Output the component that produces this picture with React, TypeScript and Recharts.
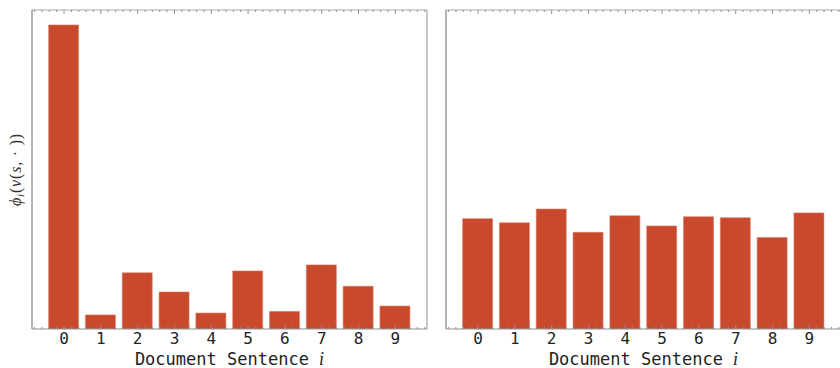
import React from 'react';
import { BarChart, Bar, XAxis, YAxis } from 'recharts';

// sentence index on the x axis
const sentences = [0, 1, 2, 3, 4, 5, 6, 7, 8, 9];
const sentenceLabels = ['0', '1', '2', '3', '4', '5', '6', '7', '8', '9'];

// left panel: attribution is concentrated on sentence 0
const leftValues = [0.953, 0.044, 0.176, 0.116, 0.05, 0.182, 0.055, 0.201, 0.134, 0.072];
// right panel: attribution spread over all sentences
const rightValues = [0.346, 0.333, 0.376, 0.303, 0.355, 0.323, 0.352, 0.349, 0.287, 0.364];

const X_DOMAIN: [number, number] = [-0.87, 9.86];
const BAR_COLOR = '#c8492c';
const FRAME = '#8f8f8f';
const MONO = 'DejaVu Sans Mono, monospace';
const SERIF = 'Liberation Serif, DejaVu Serif, serif';

// minor ticks every 1/5 of a category, majors fall on the sentences
const frameTicks: number[] = [];
for (let k = -4; k <= 49; k++) frameTicks.push(Math.round(k * 20) / 100);

const isMajor = (v: number) => Math.abs(v - Math.round(v)) < 1e-6;

const BottomTick = (props: any) => {
  const { x, y, payload } = props;
  const v = payload.value as number;
  const major = isMajor(v);
  const idx = sentences.indexOf(Math.round(v));
  return (
    <g>
      <line x1={x} y1={y} x2={x} y2={y - (major ? 4 : 2)} stroke={FRAME} strokeWidth={1} />
      {major && idx >= 0 && (
        <text x={x} y={y + 15} textAnchor="middle" fontFamily={MONO} fontSize={16} fill="#222">
          {sentenceLabels[idx]}
        </text>
      )}
    </g>
  );
};

const TopTick = (props: any) => {
  const { x, y, payload } = props;
  const major = isMajor(payload.value);
  return <line x1={x} y1={y} x2={x} y2={y + (major ? 4 : 2)} stroke={FRAME} strokeWidth={1} />;
};

const XLabel = (props: any) => {
  const { viewBox } = props;
  if (!viewBox) return null;
  return (
    <text
      x={viewBox.x + viewBox.width / 2}
      y={viewBox.y + 36}
      textAnchor="middle"
      fontSize={17}
      fill="#222"
    >
      <tspan fontFamily={MONO}>Document Sentence </tspan>
      <tspan fontFamily={SERIF} fontStyle="italic" fontSize={18}>i</tspan>
    </text>
  );
};

const YLabel = (props: any) => {
  const { viewBox } = props;
  if (!viewBox) return null;
  const cx = viewBox.x - 10;
  const cy = viewBox.y + viewBox.height / 2;
  return (
    <text
      x={cx}
      y={cy}
      transform={`rotate(-90 ${cx} ${cy})`}
      textAnchor="middle"
      fontFamily={SERIF}
      fontSize={16}
      fill="#333"
      letterSpacing={0.8}
    >
      <tspan fontStyle="italic">ϕ</tspan>
      <tspan fontStyle="italic" fontSize={11} dy={3}>i</tspan>
      <tspan dy={-3}>(</tspan>
      <tspan fontStyle="italic">v</tspan>
      <tspan>(</tspan>
      <tspan fontStyle="italic">s</tspan>
      <tspan>, · ))</tspan>
    </text>
  );
};

interface PanelProps {
  values: number[];
  showYLabel?: boolean;
}

const Panel: React.FC<PanelProps> = ({ values, showYLabel = false }) => {
  const data = sentences.map((s, i) => ({ sentence: s, value: values[i] }));
  return (
    <BarChart
      width={440}
      height={368}
      data={data}
      margin={{ top: 9, right: 12, bottom: 0, left: 31 }}
    >
      <XAxis
        dataKey="sentence"
        type="number"
        domain={X_DOMAIN}
        allowDataOverflow
        ticks={frameTicks}
        interval={0}
        tickSize={0}
        tickMargin={0}
        tick={<BottomTick />}
        tickLine={false}
        axisLine={{ stroke: FRAME }}
        height={39}
        label={<XLabel />}
      />
      <XAxis
        xAxisId="top"
        orientation="top"
        dataKey="sentence"
        type="number"
        domain={X_DOMAIN}
        allowDataOverflow
        ticks={frameTicks}
        interval={0}
        tickSize={0}
        tickMargin={0}
        tick={<TopTick />}
        tickLine={false}
        axisLine={{ stroke: '#a8a8a8' }}
        height={1}
      />
      <YAxis
        domain={[0, 1]}
        allowDataOverflow
        tick={false}
        tickLine={false}
        axisLine={{ stroke: '#6a6a6a' }}
        width={1}
        label={showYLabel ? <YLabel /> : undefined}
      />
      <YAxis
        yAxisId="right"
        orientation="right"
        dataKey="value"
        domain={[0, 1]}
        allowDataOverflow
        tick={false}
        tickLine={false}
        axisLine={{ stroke: FRAME }}
        width={1}
      />
      <Bar
        dataKey="value"
        fill={BAR_COLOR}
        stroke="#dc7a62"
        strokeWidth={0.6}
        barSize={30}
        isAnimationActive={false}
      />
    </BarChart>
  );
};

export default function App() {
  return (
    <div
      style={{
        position: 'absolute',
        left: 0,
        top: 0,
        width: 840,
        height: 368,
        overflow: 'hidden',
        background: '#fff',
      }}
    >
      <div style={{ position: 'absolute', left: 0, top: 0 }}>
        <Panel values={leftValues} showYLabel />
      </div>
      <div style={{ position: 'absolute', left: 414, top: 0 }}>
        <Panel values={rightValues} />
      </div>
    </div>
  );
}
